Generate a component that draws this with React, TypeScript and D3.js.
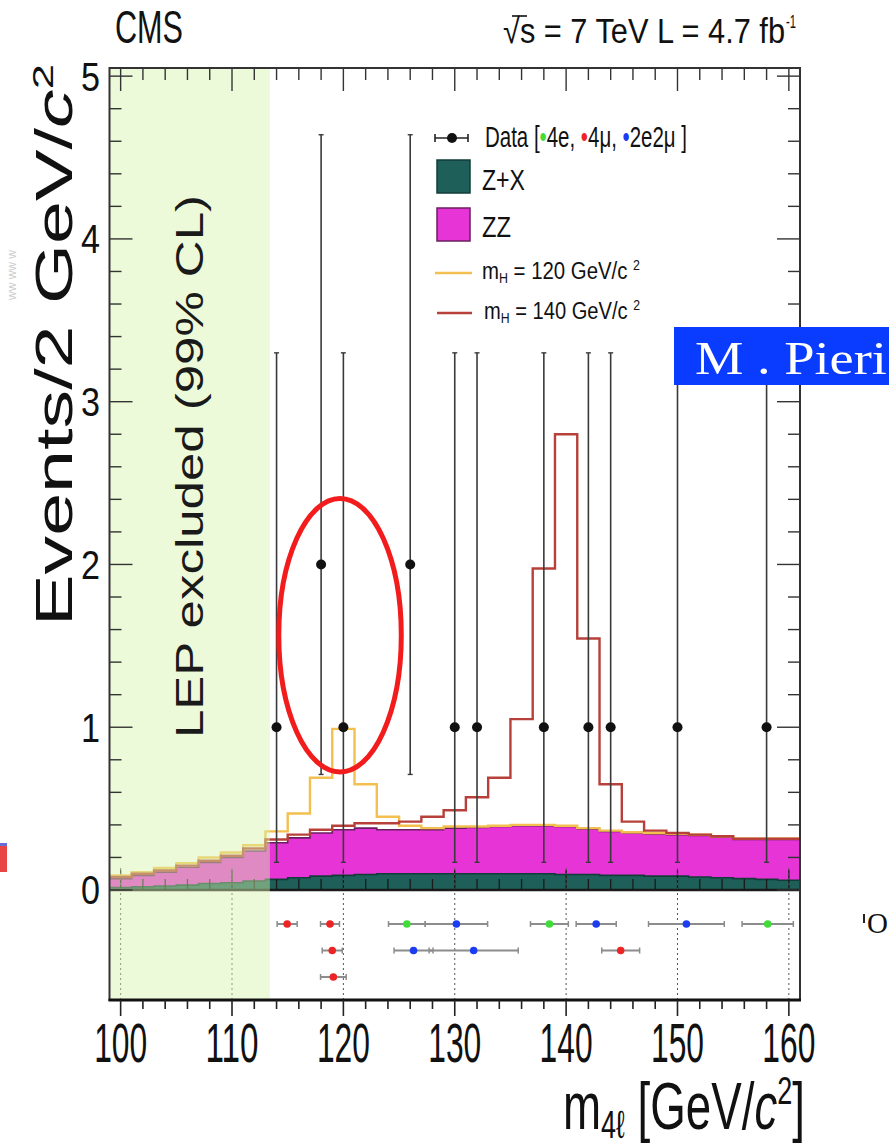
import React from 'react';
import * as d3 from 'd3';

const W = 889;
const H = 1148;

// 2 GeV histogram bins, lower edges (GeV)
const binEdges = [99, 101, 103, 105, 107, 109, 111, 113, 115, 117, 119, 121, 123, 125, 127, 129, 131, 133, 135, 137, 139, 141, 143, 145, 147, 149, 151, 153, 155, 157, 159];
const binWidth = 2;

// expected events per bin
const zPlusX = [0.015, 0.02, 0.025, 0.03, 0.04, 0.045, 0.055, 0.065, 0.075, 0.085, 0.09, 0.095, 0.1, 0.1, 0.1, 0.1, 0.1, 0.1, 0.1, 0.1, 0.095, 0.095, 0.09, 0.09, 0.085, 0.085, 0.08, 0.075, 0.07, 0.065, 0.06];
const zzYield = [0.055, 0.07, 0.085, 0.11, 0.13, 0.155, 0.185, 0.225, 0.245, 0.265, 0.28, 0.285, 0.27, 0.27, 0.27, 0.28, 0.285, 0.29, 0.295, 0.295, 0.295, 0.28, 0.27, 0.26, 0.26, 0.255, 0.255, 0.25, 0.24, 0.245, 0.25];
const higgs120 = [0.02, 0.02, 0.025, 0.025, 0.03, 0.03, 0.035, 0.07, 0.15, 0.34, 0.62, 0.27, 0.08, 0.025, 0.01, 0.01, 0.005, 0.005, 0.005, 0.005, 0.005, 0.005, 0.005, 0.005, 0.005, 0.005, 0.005, 0.005, 0.005, 0.005, 0.005];
const higgs140 = [0.01, 0.01, 0.01, 0.01, 0.01, 0.01, 0.015, 0.02, 0.02, 0.02, 0.025, 0.03, 0.04, 0.05, 0.08, 0.11, 0.185, 0.3, 0.655, 1.58, 2.41, 1.17, 0.29, 0.07, 0.02, 0.01, 0.005, 0.005, 0.005, 0.005, 0.005];

// observed events (bin centres) with Poisson intervals
const dataMass = [114, 118, 120, 126, 130, 132, 138, 142, 144, 150, 158];
const dataCount = [1, 2, 1, 2, 1, 1, 1, 1, 1, 1, 1];
const dataErrDown = [0.83, 1.29, 0.83, 1.29, 0.83, 0.83, 0.83, 0.83, 0.83, 0.83, 0.83];
const dataErrUp = [2.3, 2.64, 2.3, 2.64, 2.3, 2.3, 2.3, 2.3, 2.3, 2.3, 2.3];

// individual candidates with per-event mass resolution
const eventMass = [114.95, 118.8, 125.7, 130.15, 138.5, 142.7, 150.8, 158.1, 119.0, 126.3, 131.7, 144.9, 119.1];
const eventErr = [0.9, 0.85, 1.65, 2.8, 1.7, 1.8, 3.4, 2.3, 0.9, 1.75, 4.0, 1.7, 1.15];
const eventChannel = ['4mu', '4mu', '4e', '2e2mu', '4e', '2e2mu', '2e2mu', '4e', '4mu', '2e2mu', '2e2mu', '4mu', '4mu'];
const eventRow = [0, 0, 0, 0, 0, 0, 0, 0, 1, 1, 1, 1, 2];

const channelColor: Record<string, string> = { '4e': '#3fdc3a', '4mu': '#ee2424', '2e2mu': '#1c3cf2' };

const xTickLabels = [100, 110, 120, 130, 140, 150, 160];
const yTickLabels = [0, 1, 2, 3, 4, 5];
const lepLimit = 113.4;

const FONT = "'Liberation Sans', Arial, Helvetica, sans-serif";

const x = d3.scaleLinear().domain([99, 161]).range([109.5, 800]);
const y = d3.scaleLinear().domain([0, 5.05]).range([890, 68]);
const rowY = d3.scaleLinear().domain([0, 2]).range([924, 977]);

const frameTop = 68;
const frameBottom = 1000;
const frameLeft = x(99);
const frameRight = x(161);

type Pt = { m: number; lo: number; hi: number };

function stepPoints(lo: number[], hi: number[]): Pt[] {
  const pts = binEdges.map((e, i) => ({ m: e, lo: lo[i], hi: hi[i] }));
  const n = binEdges.length - 1;
  pts.push({ m: binEdges[n] + binWidth, lo: lo[n], hi: hi[n] });
  return pts;
}

const zeros = binEdges.map(() => 0);
const stackZX = zPlusX;
const stackZZ = zPlusX.map((v, i) => v + zzYield[i]);
const tot120 = stackZZ.map((v, i) => v + higgs120[i]);
const tot140 = stackZZ.map((v, i) => v + higgs140[i]);

const area = d3
  .area<Pt>()
  .x((d) => x(d.m))
  .y0((d) => y(d.lo))
  .y1((d) => y(d.hi))
  .curve(d3.curveStepAfter);
const line = d3
  .line<Pt>()
  .x((d) => x(d.m))
  .y((d) => y(d.hi))
  .curve(d3.curveStepAfter);

const minorX = d3.range(100, 161, 2);
const minorY = d3.range(0, 5.001, 0.2);

export default function App() {
  const zxPts = stepPoints(zeros, stackZX);
  const zzPts = stepPoints(stackZX, stackZZ);
  const p120 = stepPoints(zeros, tot120);
  const p140 = stepPoints(zeros, tot140);

  const isMajorX = (m: number) => Math.abs(m % 10) < 1e-6;
  const isMajorY = (v: number) => Math.abs(v - Math.round(v)) < 1e-6;

  return (
    <svg
      width={W}
      height={H}
      viewBox={`0 0 ${W} ${H}`}
      style={{ position: 'absolute', left: 0, top: 0, background: '#fff' }}
      fontFamily={FONT}
    >
      <rect x={0} y={0} width={W} height={H} fill="#fff" />

      {/* background stack */}
      <path d={area(zxPts) || ''} fill="#1e5f5a" />
      <path d={area(zzPts) || ''} fill="#e634d6" />
      <path d={line(zzPts) || ''} fill="none" stroke="#6a1f60" strokeWidth={1.6} />
      <path d={line(zxPts) || ''} fill="none" stroke="#123c38" strokeWidth={1.6} />

      {/* axis ticks along zero line */}
      {minorX.map((m) => (
        <line key={`zt${m}`} x1={x(m)} x2={x(m)} y1={y(0)} y2={y(0) - (isMajorX(m) ? 20 : 11)} stroke="#1a1a1a" strokeWidth={1.3} />
      ))}

      {/* dotted grid in the lower strip */}
      {xTickLabels.map((m) => (
        <line key={`g${m}`} x1={x(m)} x2={x(m)} y1={frameBottom} y2={y(0.15)} stroke="#555" strokeWidth={1} strokeDasharray="2,3" />
      ))}

      {/* signal + background */}
      <path d={line(p120) || ''} fill="none" stroke="#f3c04f" strokeWidth={2.4} />
      <path d={line(p140) || ''} fill="none" stroke="#b7413a" strokeWidth={2.4} />

      <line x1={frameLeft} x2={frameRight} y1={y(0)} y2={y(0)} stroke="#1a1a1a" strokeWidth={2.6} />

      {/* data */}
      {dataMass.map((m, i) => {
        const lo = y(dataCount[i] - dataErrDown[i]);
        const hi = y(dataCount[i] + dataErrUp[i]);
        return (
          <g key={`d${i}`}>
            <line x1={x(m)} x2={x(m)} y1={lo} y2={hi} stroke="#3a3a3a" strokeWidth={1.6} />
            <line x1={x(m) - 2.5} x2={x(m) + 2.5} y1={hi} y2={hi} stroke="#3a3a3a" strokeWidth={1.4} />
            <line x1={x(m) - 2.5} x2={x(m) + 2.5} y1={lo} y2={lo} stroke="#3a3a3a" strokeWidth={1.4} />
            <circle cx={x(m)} cy={y(dataCount[i])} r={5} fill="#111" />
          </g>
        );
      })}

      {/* individual candidates */}
      {eventMass.map((m, i) => {
        const cy = rowY(eventRow[i]);
        const a = x(m - eventErr[i]);
        const b = x(m + eventErr[i]);
        return (
          <g key={`e${i}`}>
            <line x1={a} x2={b} y1={cy} y2={cy} stroke="#8c8c8c" strokeWidth={2} />
            <line x1={a} x2={a} y1={cy - 3} y2={cy + 3} stroke="#8c8c8c" strokeWidth={1.5} />
            <line x1={b} x2={b} y1={cy - 3} y2={cy + 3} stroke="#8c8c8c" strokeWidth={1.5} />
            <circle cx={x(m)} cy={cy} r={3.8} fill={channelColor[eventChannel[i]]} />
          </g>
        );
      })}

      {/* LEP exclusion */}
      <rect
        x={frameLeft}
        y={frameTop}
        width={x(lepLimit) - frameLeft}
        height={frameBottom - frameTop}
        fill="#d7f3aa"
        fillOpacity={0.45}
      />
      <text
        transform={`translate(203,738) scale(0.75,1) rotate(-90)`}
        fontSize={52}
        textLength={543}
        lengthAdjust="spacingAndGlyphs"
        fill="#1a1a1a"
      >
        LEP  excluded (99% CL)
      </text>

      {/* frame */}
      <rect x={frameLeft} y={frameTop} width={frameRight - frameLeft} height={frameBottom - frameTop} fill="none" stroke="#333" strokeWidth={2} />
      <line x1={frameLeft - 1} x2={frameRight + 1} y1={frameBottom} y2={frameBottom} stroke="#111" strokeWidth={3} />

      {minorX.map((m) => (
        <g key={`xt${m}`}>
          <line x1={x(m)} x2={x(m)} y1={frameTop} y2={frameTop + (isMajorX(m) ? 23 : 12)} stroke="#333" strokeWidth={1.4} />
          <line x1={x(m)} x2={x(m)} y1={frameBottom} y2={frameBottom + (isMajorX(m) ? 16 : 9)} stroke="#222" strokeWidth={1.6} />
        </g>
      ))}
      {minorY.map((v) => (
        <g key={`yt${v.toFixed(1)}`}>
          <line x1={frameLeft} x2={frameLeft + (isMajorY(v) ? 23 : 12)} y1={y(v)} y2={y(v)} stroke="#333" strokeWidth={1.4} />
          <line x1={frameRight} x2={frameRight - (isMajorY(v) ? 23 : 12)} y1={y(v)} y2={y(v)} stroke="#333" strokeWidth={1.4} />
        </g>
      ))}

      {xTickLabels.map((m) => (
        <text key={`xl${m}`} x={x(m)} y={1062} fontSize={56} textAnchor="middle" textLength={53} lengthAdjust="spacingAndGlyphs" fill="#111">
          {m}
        </text>
      ))}
      {yTickLabels.map((v) => (
        <text key={`yl${v}`} x={100} y={y(v)} dy="0.36em" fontSize={40} textAnchor="end" textLength={19} lengthAdjust="spacingAndGlyphs" fill="#111">
          {v}
        </text>
      ))}

      {/* axis titles */}
      <text x={563} y={1129} fontSize={66} textLength={242} lengthAdjust="spacingAndGlyphs" fill="#111">
        m
        <tspan fontSize={39} dy={9}>4ℓ</tspan>
        <tspan fontSize={66} dy={-9}> [GeV/</tspan>
        <tspan fontStyle="italic">c</tspan>
        <tspan fontSize={39} dy={-25}>2</tspan>
        <tspan fontSize={66} dy={25}>]</tspan>
      </text>
      <text
        transform={`translate(72,626) scale(0.76,1) rotate(-90)`}
        fontSize={68}
        textLength={562}
        lengthAdjust="spacingAndGlyphs"
        fill="#111"
      >
        Events/2 GeV/<tspan fontStyle="italic">c</tspan>
        <tspan fontSize={40} dy={-25}>2</tspan>
      </text>

      {/* header */}
      <text x={115} y={43} fontSize={46} textLength={68} lengthAdjust="spacingAndGlyphs" fill="#111">
        CMS
      </text>
      <text x={503} y={43} fontSize={35} textLength={282} lengthAdjust="spacingAndGlyphs" fill="#111">
        √s = 7 TeV L = 4.7 fb
      </text>
      <line x1={512} x2={527} y1={16} y2={16} stroke="#111" strokeWidth={1.6} />
      <text x={786} y={28} fontSize={19} textLength={10} lengthAdjust="spacingAndGlyphs" fill="#111">
        -1
      </text>

      {/* legend */}
      <g>
        <line x1={435} x2={468} y1={138} y2={138} stroke="#222" strokeWidth={1.6} />
        <line x1={435} x2={435} y1={134} y2={142} stroke="#222" strokeWidth={1.6} />
        <line x1={468} x2={468} y1={134} y2={142} stroke="#222" strokeWidth={1.6} />
        <circle cx={452} cy={138} r={5} fill="#111" />
        <text x={485} y={147} fontSize={30} textLength={202} lengthAdjust="spacingAndGlyphs" fill="#111">
          Data [<tspan fill={channelColor['4e']}>•</tspan>4e, <tspan fill={channelColor['4mu']}>•</tspan>4μ, <tspan fill={channelColor['2e2mu']}>•</tspan>2e2μ ]
        </text>

        <rect x={437} y={160} width={33} height={33} fill="#1e5f5a" stroke="#123c38" strokeWidth={1.5} />
        <text x={482} y={190} fontSize={30} textLength={43} lengthAdjust="spacingAndGlyphs" fill="#111">
          Z+X
        </text>

        <rect x={437} y={208} width={33} height={33} fill="#e634d6" stroke="#6a1f60" strokeWidth={1.5} />
        <text x={482} y={237} fontSize={30} textLength={29} lengthAdjust="spacingAndGlyphs" fill="#111">
          ZZ
        </text>

        <line x1={435} x2={472} y1={273} y2={273} stroke="#f3c04f" strokeWidth={2.6} />
        <text x={482} y={279} fontSize={23} textLength={158} lengthAdjust="spacingAndGlyphs" fill="#111">
          m<tspan fontSize={14} dy={4}>H</tspan>
          <tspan fontSize={23} dy={-4}> = 120 GeV/c </tspan>
          <tspan fontSize={14} dy={-9}>2</tspan>
        </text>

        <line x1={437} x2={472} y1={313} y2={313} stroke="#b7413a" strokeWidth={2.6} />
        <text x={484} y={319} fontSize={23} textLength={156} lengthAdjust="spacingAndGlyphs" fill="#111">
          m<tspan fontSize={14} dy={4}>H</tspan>
          <tspan fontSize={23} dy={-4}> = 140 GeV/c </tspan>
          <tspan fontSize={14} dy={-9}>2</tspan>
        </text>
      </g>

      {/* annotations */}
      <ellipse
        cx={x(119.7)}
        cy={y(1.565)}
        rx={x(125.2) - x(119.7)}
        ry={y(0) - y(0.84)}
        fill="none"
        stroke="#f21c1c"
        strokeWidth={5}
      />
      <rect x={674} y={327} width={W - 674} height={58} fill="#0a3cff" />
      <text x={695} y={374} fontFamily="'Liberation Serif', 'Times New Roman', serif" fontSize={47} textLength={192} lengthAdjust="spacingAndGlyphs" fill="#fff">
        M . Pieri
      </text>

      {/* slide fragments at the edges */}
      <line x1={864} x2={864} y1={914} y2={923} stroke="#222" strokeWidth={2} />
      <text x={867} y={933} fontFamily="'Liberation Serif', serif" fontSize={29} fill="#111">
        O
      </text>
      <rect x={0} y={843} width={7} height={29} fill="#e84545" />
      <rect x={0} y={843} width={7} height={3} fill="#6a6ad8" />
      <text transform="translate(16,300) rotate(-90)" fontSize={12} fill="#aaa" opacity={0.6}>
        ww ww w
      </text>
    </svg>
  );
}
